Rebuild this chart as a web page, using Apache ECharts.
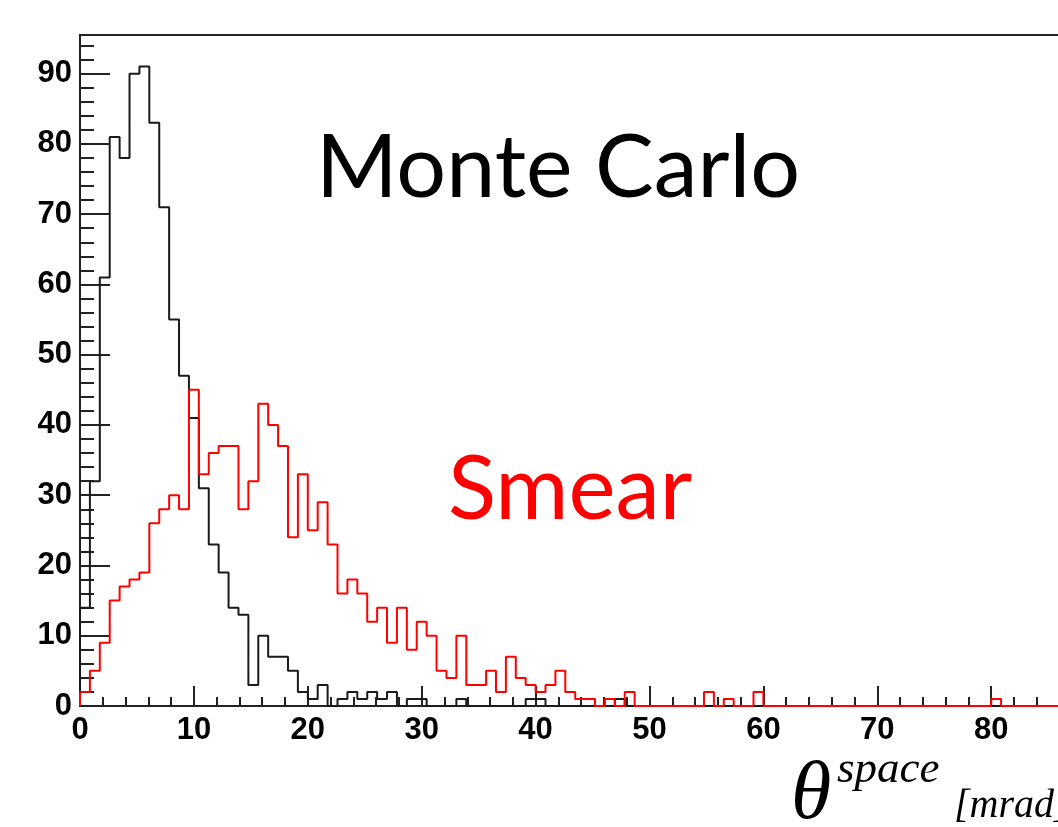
<!DOCTYPE html>
<html>
<head>
<meta charset="utf-8">
<script src="https://cdn.jsdelivr.net/npm/echarts@6/dist/echarts.min.js"></script>
<style>
html,body{margin:0;padding:0;background:#fff;}
#chart{width:1058px;height:827px;}
</style>
</head>
<body>
<div id="chart"></div>
<script>
// Histogram: 115 bins over 0..100 mrad
const X_MIN = 0, X_MAX = 100, N_BINS = 115;
const X_TICKS_MAJOR = 10, X_TICKS_MINOR = 2;
const Y_MIN = 0, Y_MAX = 95.5, Y_TICKS_MAJOR = 10, Y_TICKS_MINOR = 2;

const monteCarlo = [
  14,32,61,81,78,90,91,83,71,55,
  47,41,31,23,19,14,13,3,10,7,
  7,5,2,1,3,0,1,2,1,2,
  1,2,0,1,1,0,0,0,1,0,
  0,0,0,0,0,1,1,0,0,0,
  0,0,0,0,1,0,0,0,0,0,
  0,0,0,0,0,0,0,0,0,0,
  0,0,0,0,0,0,0,0,0,0,
  0,0,0,0,0,0,0,0,0,0,
  0,0,0,0,0,0,0,0,0,0,
  0,0,0,0,0,0,0,0,0,0,
  0,0,0,0,0
];
const smear = [
  2,5,9,15,17,18,19,26,28,30,
  28,45,33,36,37,37,28,32,43,40,
  37,24,33,25,29,23,16,18,16,12,
  14,9,14,8,12,10,5,4,10,3,
  3,5,2,7,4,3,2,3,5,2,
  1,1,0,1,0,2,0,0,0,0,
  0,0,0,2,0,1,0,0,2,0,
  0,0,0,0,0,0,0,0,0,0,
  0,0,0,0,0,0,0,0,0,0,
  0,0,1,0,0,0,0,0,0,0,
  0,0,0,0,0,0,0,0,0,0,
  0,0,0,0,0
];
const labelMonteCarlo = 'Monte Carlo';
const labelSmear = 'Smear';
const axisTheta = 'θ';
const axisSup = 'space';
const axisUnit = '[mrad]';

const BIN_W = (X_MAX - X_MIN) / N_BINS;
function outline(vals) {
  const pts = [[X_MIN, 0]];
  for (let i = 0; i < vals.length; i++) pts.push([X_MIN + i * BIN_W, vals[i]]);
  pts.push([X_MIN + vals.length * BIN_W, vals[vals.length - 1]]);
  return pts;
}

const chart = echarts.init(document.getElementById('chart'), null, {renderer: 'canvas'});
const axisColor = '#222';
const labelFont = {fontFamily: 'Liberation Sans', fontWeight: 'bold', fontSize: 31, color: '#000'};

const option = {
  animation: false,
  backgroundColor: '#fff',
  grid: {
    left: 80, top: 35, width: 1139, height: 671,
    show: true, borderColor: axisColor, borderWidth: 2, backgroundColor: 'transparent',
    outerBoundsMode: 'none', containLabel: false
  },
  xAxis: [
    {
      type: 'value', min: X_MIN, max: X_MAX, interval: X_TICKS_MINOR, position: 'bottom',
      axisLine: {show: true, lineStyle: {color: axisColor, width: 2}},
      axisTick: {show: true, inside: true, length: 9, lineStyle: {color: axisColor, width: 2}},
      axisLabel: {show: false}, splitLine: {show: false}
    },
    {
      type: 'value', min: X_MIN, max: X_MAX, interval: X_TICKS_MAJOR, position: 'bottom',
      axisLine: {show: false},
      axisTick: {show: true, inside: true, length: 20, lineStyle: {color: axisColor, width: 2}},
      axisLabel: Object.assign({show: true, margin: 9, showMaxLabel: false}, labelFont),
      splitLine: {show: false}
    }
  ],
  yAxis: [
    {
      type: 'value', min: Y_MIN, max: Y_MAX, interval: Y_TICKS_MINOR, position: 'left',
      axisLine: {show: true, lineStyle: {color: axisColor, width: 2}},
      axisTick: {show: true, inside: true, length: 14, lineStyle: {color: axisColor, width: 2}},
      axisLabel: {show: false}, splitLine: {show: false}
    },
    {
      type: 'value', min: Y_MIN, max: Y_MAX, interval: Y_TICKS_MAJOR, position: 'left',
      axisLine: {show: false},
      axisTick: {show: true, inside: true, length: 30, lineStyle: {color: axisColor, width: 2}},
      axisLabel: Object.assign({show: true, margin: 8, showMaxLabel: false}, labelFont),
      splitLine: {show: false}
    }
  ],
  series: [
    {
      name: labelMonteCarlo, type: 'line', step: 'end', xAxisIndex: 0, yAxisIndex: 0,
      data: outline(monteCarlo), showSymbol: false, clip: false,
      lineStyle: {color: '#1a1a1a', width: 2}, z: 3
    },
    {
      name: labelSmear, type: 'line', step: 'end', xAxisIndex: 0, yAxisIndex: 0,
      data: outline(smear), showSymbol: false, clip: false,
      lineStyle: {color: '#ff0000', width: 2}, z: 4
    }
  ],
  graphic: [
    {type: 'text', left: 316, top: 125, style: {text: labelMonteCarlo, fontFamily: 'Lato', fontSize: 88, fill: '#000'}},
    {type: 'text', left: 448, top: 446, style: {text: labelSmear, fontFamily: 'Lato', fontSize: 89, fill: '#ff0000'}},
    {type: 'text', left: 791, top: 755, style: {text: axisTheta, fontFamily: 'Liberation Serif', fontStyle: 'italic', fontSize: 82, fill: '#000'}},
    {type: 'text', left: 837, top: 748, style: {text: axisSup, fontFamily: 'Liberation Serif', fontStyle: 'italic', fontSize: 45, fill: '#000'}},
    {type: 'text', left: 954, top: 786, style: {text: axisUnit, fontFamily: 'Liberation Serif', fontStyle: 'italic', fontSize: 40, fill: '#000'}}
  ]
};
chart.setOption(option);
</script>
</body>
</html>
